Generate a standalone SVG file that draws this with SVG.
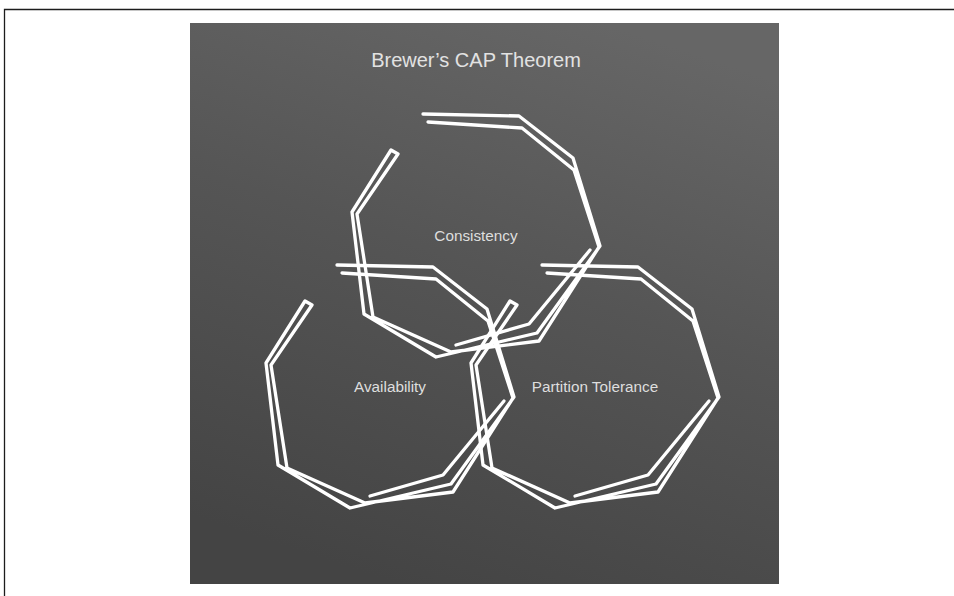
<svg xmlns="http://www.w3.org/2000/svg" xmlns:xlink="http://www.w3.org/1999/xlink" width="954" height="596" viewBox="0 0 954 596">
  <style>
    .frame { fill: none; stroke: #1c1c1c; stroke-width: 1.3; }
    .sketch { fill: none; stroke: #ffffff; stroke-width: 3.3; stroke-linejoin: round; stroke-linecap: round; }
    .title { font-family: "Liberation Sans", Arial, Helvetica, sans-serif; font-size: 20px; fill: #e2e2e2; text-anchor: middle; }
    .label { font-family: "Liberation Sans", Arial, Helvetica, sans-serif; font-size: 15.3px; fill: #dedede; text-anchor: middle; }
  </style>
  <defs>
    <linearGradient id="board" x1="0.7" y1="0" x2="0.35" y2="1">
      <stop offset="0" stop-color="#666666"/>
      <stop offset="0.45" stop-color="#555555"/>
      <stop offset="1" stop-color="#444444"/>
    </linearGradient>
    <!-- hand-drawn ring: two passes around with a hairpin spike, plus a short extra stroke -->
    <g id="ring">
      <path class="sketch" d="M423,114 L519,116 L573,158 L600,246 L537,333 L436,357 L364,314 L352,212 L391,150 L398,154 L357,214 L373,317 L451,352 L539,341 L599,247 L574,170 L522,128 L428,122"/>
      <path class="sketch" d="M456,345 L529,324 L590,250"/>
    </g>
  </defs>

  <!-- page frame -->
  <path class="frame" d="M4.5,596 V9.5 H954"/>

  <!-- chalkboard panel -->
  <rect x="190" y="23" width="589" height="561" fill="url(#board)"/>

  <text class="title" x="476" y="67">Brewer’s CAP Theorem</text>

  <g id="consistency">
    <use xlink:href="#ring" href="#ring"/>
    <text class="label" x="476" y="241">Consistency</text>
  </g>

  <g id="availability" transform="translate(-86,151)">
    <use xlink:href="#ring" href="#ring"/>
    <text class="label" x="476" y="241">Availability</text>
  </g>

  <g id="partition-tolerance" transform="translate(119,151)">
    <use xlink:href="#ring" href="#ring"/>
    <text class="label" x="476" y="241">Partition Tolerance</text>
  </g>

  <g id="connectors"/>
</svg>
